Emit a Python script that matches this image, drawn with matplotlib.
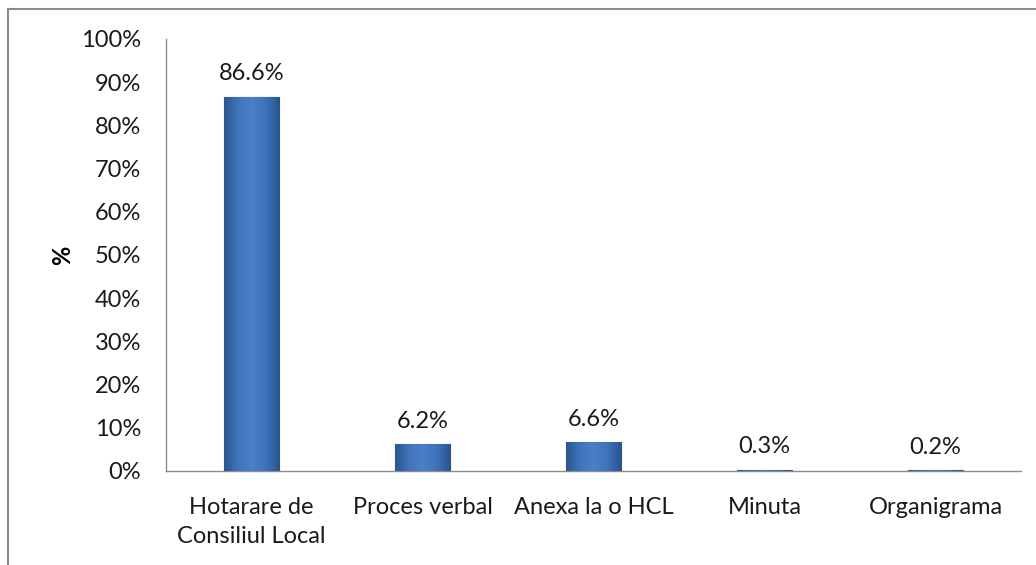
import numpy as np
import matplotlib.pyplot as plt
from matplotlib.lines import Line2D
from matplotlib.ticker import PercentFormatter
from matplotlib.colors import LinearSegmentedColormap

categories = ["Hotarare de\nConsiliul Local", "Proces verbal", "Anexa la o HCL", "Minuta", "Organigrama"]
values = [86.6, 6.2, 6.6, 0.3, 0.2]
labels = ["86.6%", "6.2%", "6.6%", "0.3%", "0.2%"]

plt.rcParams['font.family'] = ['Lato', 'DejaVu Sans']
fs = 17

fig = plt.figure(figsize=(10.36, 5.65), dpi=100)
ax = fig.add_axes([0.1602, 0.1664, 0.8253, 0.7646])

x = np.arange(len(categories))
bars = ax.bar(x, values, width=0.32, color='#3a6cb0', edgecolor='#2a5088', linewidth=0.8, zorder=2)

# horizontal shading across each bar
cmap = LinearSegmentedColormap.from_list('bev', ['#2b578f', '#3f74bd', '#4a80c8', '#3f74bd', '#2b578f'])
grad = np.linspace(0, 1, 64).reshape(1, -1)
for b in bars:
    x0, y0 = b.get_x(), b.get_y()
    w, h = b.get_width(), b.get_height()
    im = ax.imshow(grad, cmap=cmap, aspect='auto', extent=(x0, x0 + w, y0, y0 + h), zorder=3)
    im.set_clip_path(b)

for xi, v, lab in zip(x, values, labels):
    ax.annotate(lab, (xi, v), xytext=(0, 9), textcoords='offset points',
                ha='center', va='bottom', fontsize=fs, color='#1a1a1a')

ax.set_xlim(-0.5, len(categories) - 0.5)
ax.set_ylim(0, 100)
ax.set_yticks(np.arange(0, 101, 10))
ax.yaxis.set_major_formatter(PercentFormatter(decimals=0))
ax.set_xticks(x)
ax.set_xticklabels(categories, fontsize=fs, color='#1a1a1a', linespacing=1.45)
ax.tick_params(axis='y', length=0, pad=18, labelsize=fs, labelcolor='#1a1a1a')
ax.tick_params(axis='x', length=0, pad=19)
for side in ['top', 'right']:
    ax.spines[side].set_visible(False)
for side in ['left', 'bottom']:
    ax.spines[side].set_color('#8c8c8c')
    ax.spines[side].set_linewidth(1.0)
ax.set_ylabel('%', fontsize=fs, fontweight='bold', labelpad=5)

# chart area border (top and left)
fig.add_artist(Line2D([8 / 1036, 1], [1 - 8.5 / 565, 1 - 8.5 / 565], color='#8c8c8c', linewidth=1.5, transform=fig.transFigure))
fig.add_artist(Line2D([8 / 1036, 8 / 1036], [0, 1 - 8.5 / 565], color='#8c8c8c', linewidth=1.5, transform=fig.transFigure))

fig.savefig('out.png', dpi=100)
